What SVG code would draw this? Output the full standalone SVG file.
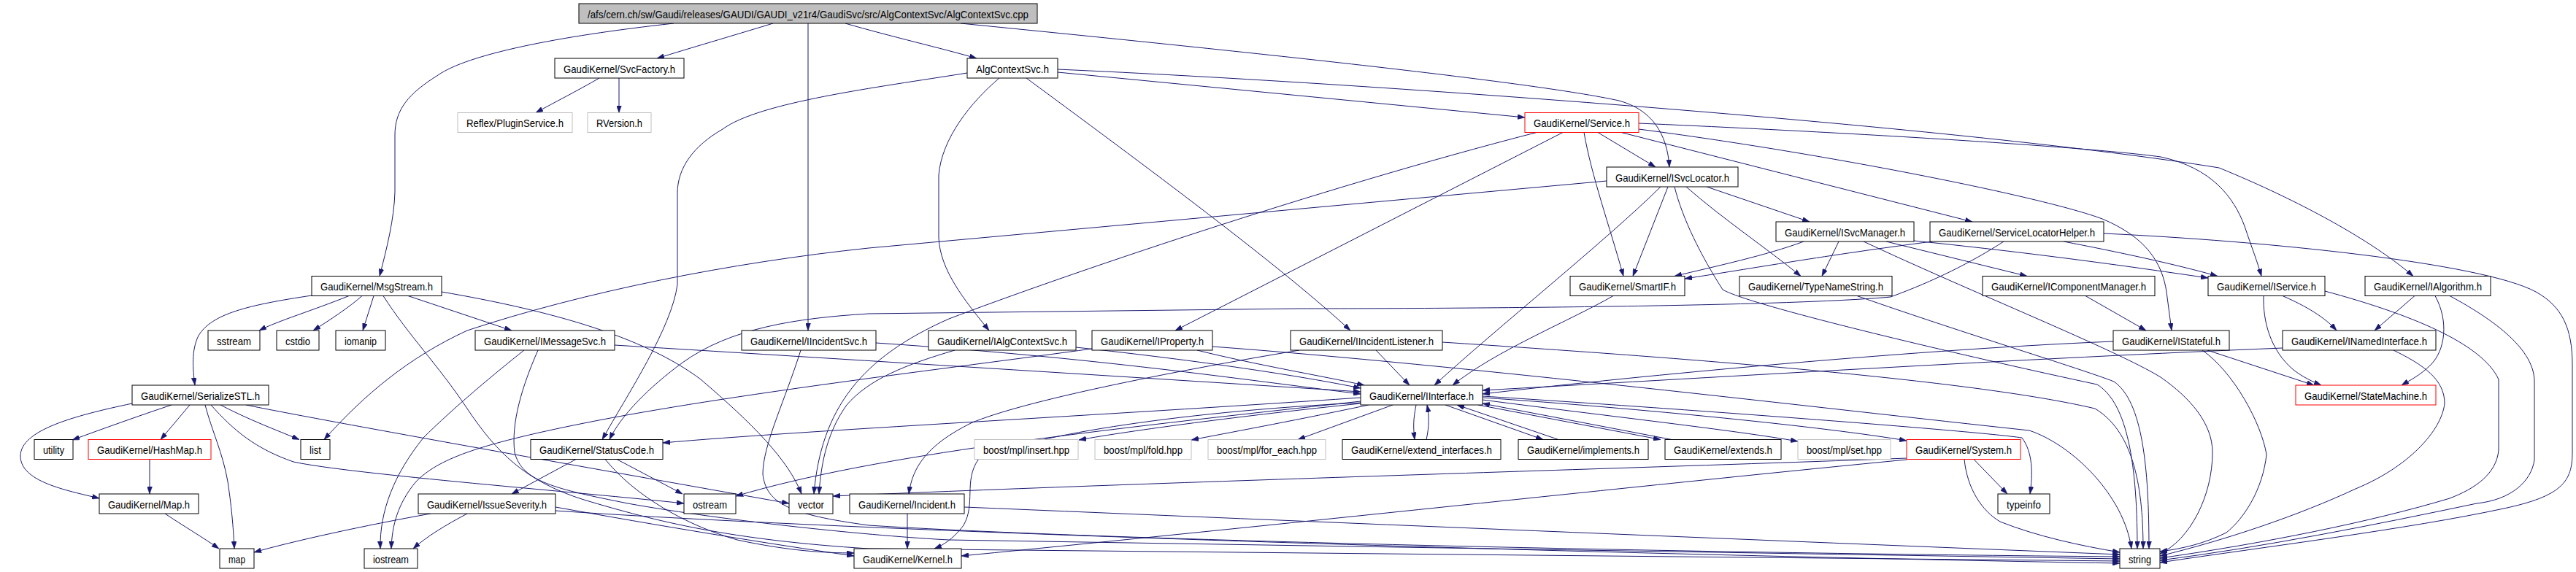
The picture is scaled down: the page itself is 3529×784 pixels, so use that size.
<svg xmlns="http://www.w3.org/2000/svg" width="3529" height="784" viewBox="0 0 3529 784">
<style>
rect{fill:#fff;stroke:#000;stroke-width:1}
rect.g{stroke:#bfbfbf}
rect.r{stroke:#f00}
rect.root{fill:#bfbfbf}
text{font-family:"Liberation Sans",Arial,sans-serif;font-size:15px;text-anchor:middle;fill:#000}
#edges path{fill:none;stroke:#191970;stroke-width:1;marker-end:url(#a)}
</style>
<defs>
<marker id="a" viewBox="0 0 10 7" refX="10" refY="3.5" markerWidth="10" markerHeight="7" markerUnits="userSpaceOnUse" orient="auto"><path d="M0,0 L10,3.5 L0,7 z" fill="#191970" stroke="#191970" stroke-width="0.5"/></marker>
</defs>
<rect x="0" y="0" width="3529" height="784" style="fill:#fff;stroke:none"/>
<g id="edges">
<path d="M923,32 C 760,50 640,75 600,103 C 560,128 541,150 541,185 L 541,263 C 540,300 530,340 520,378.5"/>
<path d="M1059,32 C 1000,50 945,66 900,80"/>
<path d="M1107,32 L 1107,453"/>
<path d="M1158,32 C 1220,50 1290,66 1338,80"/>
<path d="M1316,32 C 1700,70 2100,112 2218,138 C 2262,150 2284,182 2287,229"/>
<path d="M821,107 C 790,125 760,140 734,154.5"/>
<path d="M848,107 L 848,154.5"/>
<path d="M1325,100 C 1200,120 1040,140 990,177 C 950,200 928,230 928,265 L 928,390 C 920,450 860,540 825,602.5"/>
<path d="M1369,107 C 1330,140 1290,190 1286,240 L 1286,326 C 1288,370 1320,410 1355,453"/>
<path d="M1406,107 C 1600,250 1760,370 1850,453"/>
<path d="M1449,99 L 2089,161"/>
<path d="M1449,95 C 1900,115 2700,175 3040,230 C 3150,275 3250,330 3306,378.5"/>
<path d="M2189,181.5 L 2268,229"/>
<path d="M2170,181.5 C 2180,240 2205,310 2224,378.5"/>
<path d="M2245,169 C 2500,180 2850,200 2960,215 C 3030,230 3060,270 3075,310 C 3085,340 3093,360 3098,378.5"/>
<path d="M2245,177 C 2500,210 2800,270 2880,300 C 2940,325 2962,360 2968,400 L 2975,453"/>
<path d="M2141,181.5 L 1610,453"/>
<path d="M2105,181.5 C 1800,260 1450,380 1300,437 C 1180,490 1125,560 1115,677"/>
<path d="M2221,181.5 L 2702,304"/>
<path d="M2201,248 L 1190,340 C 1000,360 800,400 640,453 C 560,490 500,540 444,602.5"/>
<path d="M2275,256 C 2200,330 2050,450 1965,528"/>
<path d="M2285,256 L 2237,378.5"/>
<path d="M2294,256 C 2305,300 2330,350 2360,397 C 2400,420 2700,490 2873,527 C 2910,550 2928,620 2928,752"/>
<path d="M2310,256 C 2360,300 2420,340 2467,378.5"/>
<path d="M2338,256 L 2479,304"/>
<path d="M2471,331 C 2420,350 2350,365 2294,378.5"/>
<path d="M2647,331 C 2500,350 2400,368 2308,382"/>
<path d="M2519,331 L 2496,378.5"/>
<path d="M2553,331 C 2700,400 2900,480 2960,517 C 3000,545 3031,580 3031,620 C 3031,680 3000,740 2959,759"/>
<path d="M2584,331 L 2777,378.5"/>
<path d="M2622,330 C 2800,348 2950,370 3025,381"/>
<path d="M2745,331 C 2700,360 2650,385 2590,407 C 2450,420 2000,423 1780,423 L 1190,430 C 1090,436 1000,450 935,497 C 890,530 850,570 835,602.5"/>
<path d="M2827,331 C 2900,345 2980,362 3038,378.5"/>
<path d="M2882,320 C 3100,330 3400,360 3474,400 C 3510,420 3524,450 3524,500 L 3524,620 C 3524,660 3510,680 3430,697 C 3300,725 3100,750 2959,771"/>
<path d="M478,405.5 C 430,425 380,440 355,453"/>
<path d="M496,405.5 C 480,420 450,440 429,453"/>
<path d="M512,405.5 L 497,453"/>
<path d="M427,405 C 340,418 290,430 272,460 C 262,480 264,505 267,528"/>
<path d="M559,405.5 L 701,453"/>
<path d="M605,400 C 750,425 880,460 960,520 C 1030,580 1080,630 1098,677"/>
<path d="M525,405.5 C 560,460 600,500 640,560 C 680,620 720,660 800,685 C 900,715 1000,740 1190,752 L 2904,769"/>
<path d="M842,473 C 1200,495 1600,520 1864,537"/>
<path d="M718,480 C 680,510 620,560 580,600 C 540,650 520,700 521,752"/>
<path d="M737,480 C 715,530 700,580 705,620 C 715,660 760,670 860,690 C 1000,715 1200,735 1300,740 L 2904,766"/>
<path d="M235,555 C 190,570 140,588 99,603"/>
<path d="M260,555 L 220,602.5"/>
<path d="M181,553 C 100,570 28,590 28,625 C 28,660 90,672 136,683"/>
<path d="M281,555 C 290,590 305,620 312,660 C 318,700 320,730 321,752"/>
<path d="M302,555 C 340,575 380,590 410,602.5"/>
<path d="M289,555 C 320,590 350,615 402,633 C 480,650 800,675 937,690"/>
<path d="M337,555 C 450,578 800,640 1081,690"/>
<path d="M205,629.5 L 205,677"/>
<path d="M226,704 C 250,720 280,738 300,752"/>
<path d="M789,629.5 L 701,677"/>
<path d="M845,629.5 L 935,677"/>
<path d="M829,629.5 C 870,680 940,720 1010,740 C 1080,755 1130,758 1170,758"/>
<path d="M590,704 C 500,720 400,742 348,757"/>
<path d="M640,704 C 610,720 585,735 566,752"/>
<path d="M761,695 C 900,720 1050,745 1170,762"/>
<path d="M761,700 C 1200,730 2200,760 2904,772"/>
<path d="M1200,470 C 1500,490 1700,520 1864,540"/>
<path d="M1097,480 C 1075,550 1045,610 1045,650 C 1050,690 1080,705 1190,720 C 1500,740 2300,758 2904,763"/>
<path d="M1474,476 C 1650,495 1780,515 1864,532"/>
<path d="M1308,480 C 1240,500 1190,520 1160,555 C 1135,590 1125,630 1122,677"/>
<path d="M1640,480 C 1720,500 1810,515 1869,528"/>
<path d="M1496,478 C 1300,505 1000,540 800,580 C 650,610 600,630 570,660 C 545,690 537,720 536,752"/>
<path d="M1661,475 C 2000,500 2500,560 2780,590 C 2840,610 2910,680 2920,752"/>
<path d="M1885,480 L 1931,528"/>
<path d="M1780,480 C 1600,510 1400,550 1330,580 C 1270,610 1250,640 1245,677"/>
<path d="M1976,469 C 2300,490 2700,520 2870,560 C 2920,590 2936,660 2936,752"/>
<path d="M2210,405.5 C 2150,440 2050,480 1990,528"/>
<path d="M2544,405.5 C 2700,460 2850,505 2896,523 C 2935,550 2944,640 2944,752"/>
<path d="M2857,405.5 L 2940,453"/>
<path d="M3127,405.5 C 3160,420 3185,435 3201,453"/>
<path d="M3101,405.5 C 3100,440 3110,480 3142,507 C 3155,517 3168,523 3180,528"/>
<path d="M3185,399 C 3300,430 3400,470 3423,520 L 3423,617 C 3420,650 3390,670 3356,683 C 3250,715 3100,745 2959,765"/>
<path d="M3308,405.5 L 3253,453"/>
<path d="M3336,405.5 C 3355,440 3350,480 3330,500 C 3315,515 3300,522 3290,528"/>
<path d="M3356,405.5 C 3420,440 3472,480 3472,523 L 3472,630 C 3468,660 3440,685 3393,690 C 3250,720 3100,750 2959,768"/>
<path d="M3127,477 C 2800,490 2300,520 2031,535"/>
<path d="M3279,480 C 3320,500 3349,520 3349,553 C 3345,590 3300,640 3227,670 C 3150,706 3050,740 2959,762"/>
<path d="M2895,468 C 2600,480 2200,520 2031,540"/>
<path d="M3024,480 L 3170,528"/>
<path d="M3017,480 C 3060,510 3098,580 3105,623 C 3100,670 3075,710 3050,730 C 3020,745 2990,752 2959,756"/>
<path d="M1864,545 C 1500,570 1100,590 908,607"/>
<path d="M1864,550 C 1500,590 1200,623 1008,680"/>
<path d="M1864,552 C 1600,565 1400,600 1340,630 C 1320,660 1337,690 1320,720 C 1305,740 1290,748 1280,752"/>
<path d="M1864,553 C 1700,570 1550,590 1478,603"/>
<path d="M1875,555 C 1780,575 1700,590 1632,603"/>
<path d="M1908,555 L 1778,602.5"/>
<path d="M1940,555 C 1936,575 1936,585 1938,602.5"/>
<path d="M1954,602.5 C 1958,585 1958,570 1955,555"/>
<path d="M1980,555 L 2114,602.5"/>
<path d="M2135,602.5 L 1996,555"/>
<path d="M2025,555 L 2275,602.5"/>
<path d="M2290,602.5 L 2031,553"/>
<path d="M2031,548 C 2200,570 2380,590 2463,605"/>
<path d="M2031,545 C 2250,560 2500,585 2612,604"/>
<path d="M2031,543 C 2300,560 2700,590 2770,600 C 2785,620 2785,650 2781,677"/>
<path d="M2704,629.5 L 2750,677"/>
<path d="M2612,628 C 2300,640 1600,660 1141,680"/>
<path d="M2612,630 C 2300,660 1800,715 1317,762"/>
<path d="M2691,629.5 C 2695,670 2715,700 2740,715 C 2790,735 2850,748 2904,757"/>
<path d="M1243,704 L 1243,752"/>
<path d="M1321,695 C 1800,715 2400,740 2904,760"/>
</g>
<g id="root"><rect class="root" x="793" y="5" width="628" height="27"/><text x="1107" y="24.5" textLength="604" lengthAdjust="spacingAndGlyphs">/afs/cern.ch/sw/Gaudi/releases/GAUDI/GAUDI_v21r4/GaudiSvc/src/AlgContextSvc/AlgContextSvc.cpp</text></g>
<g id="SvcFactory"><rect x="760" y="80" width="177" height="27"/><text x="848.5" y="99.5" textLength="153" lengthAdjust="spacingAndGlyphs">GaudiKernel/SvcFactory.h</text></g>
<g id="AlgContextSvcH"><rect x="1325" y="80" width="124" height="27"/><text x="1387" y="99.5" textLength="100" lengthAdjust="spacingAndGlyphs">AlgContextSvc.h</text></g>
<g id="PluginService"><rect class="g" x="627" y="154.5" width="157" height="27"/><text x="705.5" y="174" textLength="133" lengthAdjust="spacingAndGlyphs">Reflex/PluginService.h</text></g>
<g id="RVersion"><rect class="g" x="805" y="154.5" width="87" height="27"/><text x="848.5" y="174" textLength="63" lengthAdjust="spacingAndGlyphs">RVersion.h</text></g>
<g id="Service"><rect class="r" x="2089" y="154.5" width="156" height="27"/><text x="2167" y="174" textLength="132" lengthAdjust="spacingAndGlyphs">GaudiKernel/Service.h</text></g>
<g id="ISvcLocator"><rect x="2201" y="229" width="180" height="27"/><text x="2291" y="248.5" textLength="156" lengthAdjust="spacingAndGlyphs">GaudiKernel/ISvcLocator.h</text></g>
<g id="ISvcManager"><rect x="2433" y="304" width="189" height="27"/><text x="2527.5" y="323.5" textLength="165" lengthAdjust="spacingAndGlyphs">GaudiKernel/ISvcManager.h</text></g>
<g id="ServiceLocatorHelper"><rect x="2644" y="304" width="238" height="27"/><text x="2763" y="323.5" textLength="214" lengthAdjust="spacingAndGlyphs">GaudiKernel/ServiceLocatorHelper.h</text></g>
<g id="MsgStream"><rect x="427" y="378.5" width="178" height="27"/><text x="516" y="398" textLength="154" lengthAdjust="spacingAndGlyphs">GaudiKernel/MsgStream.h</text></g>
<g id="SmartIF"><rect x="2151" y="378.5" width="157" height="27"/><text x="2229.5" y="398" textLength="133" lengthAdjust="spacingAndGlyphs">GaudiKernel/SmartIF.h</text></g>
<g id="TypeNameString"><rect x="2383" y="378.5" width="209" height="27"/><text x="2487.5" y="398" textLength="185" lengthAdjust="spacingAndGlyphs">GaudiKernel/TypeNameString.h</text></g>
<g id="IComponentManager"><rect x="2716" y="378.5" width="236" height="27"/><text x="2834" y="398" textLength="212" lengthAdjust="spacingAndGlyphs">GaudiKernel/IComponentManager.h</text></g>
<g id="IService"><rect x="3025" y="378.5" width="160" height="27"/><text x="3105" y="398" textLength="136" lengthAdjust="spacingAndGlyphs">GaudiKernel/IService.h</text></g>
<g id="IAlgorithm"><rect x="3240" y="378.5" width="172" height="27"/><text x="3326" y="398" textLength="148" lengthAdjust="spacingAndGlyphs">GaudiKernel/IAlgorithm.h</text></g>
<g id="sstream"><rect x="285" y="453" width="71" height="27"/><text x="320.5" y="472.5" textLength="47" lengthAdjust="spacingAndGlyphs">sstream</text></g>
<g id="cstdio"><rect x="379" y="453" width="58" height="27"/><text x="408" y="472.5" textLength="34" lengthAdjust="spacingAndGlyphs">cstdio</text></g>
<g id="iomanip"><rect x="460" y="453" width="68" height="27"/><text x="494" y="472.5" textLength="44" lengthAdjust="spacingAndGlyphs">iomanip</text></g>
<g id="IMessageSvc"><rect x="651" y="453" width="191" height="27"/><text x="746.5" y="472.5" textLength="167" lengthAdjust="spacingAndGlyphs">GaudiKernel/IMessageSvc.h</text></g>
<g id="IIncidentSvc"><rect x="1016" y="453" width="184" height="27"/><text x="1108" y="472.5" textLength="160" lengthAdjust="spacingAndGlyphs">GaudiKernel/IIncidentSvc.h</text></g>
<g id="IAlgContextSvc"><rect x="1272" y="453" width="202" height="27"/><text x="1373" y="472.5" textLength="178" lengthAdjust="spacingAndGlyphs">GaudiKernel/IAlgContextSvc.h</text></g>
<g id="IProperty"><rect x="1496" y="453" width="165" height="27"/><text x="1578.5" y="472.5" textLength="141" lengthAdjust="spacingAndGlyphs">GaudiKernel/IProperty.h</text></g>
<g id="IIncidentListener"><rect x="1768" y="453" width="208" height="27"/><text x="1872" y="472.5" textLength="184" lengthAdjust="spacingAndGlyphs">GaudiKernel/IIncidentListener.h</text></g>
<g id="IStateful"><rect x="2895" y="453" width="159" height="27"/><text x="2974.5" y="472.5" textLength="135" lengthAdjust="spacingAndGlyphs">GaudiKernel/IStateful.h</text></g>
<g id="INamedInterface"><rect x="3127" y="453" width="210" height="27"/><text x="3232" y="472.5" textLength="186" lengthAdjust="spacingAndGlyphs">GaudiKernel/INamedInterface.h</text></g>
<g id="SerializeSTL"><rect x="181" y="528" width="187" height="27"/><text x="274.5" y="547.5" textLength="163" lengthAdjust="spacingAndGlyphs">GaudiKernel/SerializeSTL.h</text></g>
<g id="IInterface"><rect x="1864" y="528" width="167" height="27"/><text x="1947.5" y="547.5" textLength="143" lengthAdjust="spacingAndGlyphs">GaudiKernel/IInterface.h</text></g>
<g id="StateMachine"><rect class="r" x="3145" y="528" width="192" height="27"/><text x="3241" y="547.5" textLength="168" lengthAdjust="spacingAndGlyphs">GaudiKernel/StateMachine.h</text></g>
<g id="utility"><rect x="47" y="602.5" width="53" height="27"/><text x="73.5" y="622" textLength="29" lengthAdjust="spacingAndGlyphs">utility</text></g>
<g id="HashMap"><rect class="r" x="121" y="602.5" width="168" height="27"/><text x="205" y="622" textLength="144" lengthAdjust="spacingAndGlyphs">GaudiKernel/HashMap.h</text></g>
<g id="list"><rect x="412" y="602.5" width="40" height="27"/><text x="432" y="622" textLength="16" lengthAdjust="spacingAndGlyphs">list</text></g>
<g id="StatusCode"><rect x="727" y="602.5" width="181" height="27"/><text x="817.5" y="622" textLength="157" lengthAdjust="spacingAndGlyphs">GaudiKernel/StatusCode.h</text></g>
<g id="insert"><rect class="g" x="1335" y="602.5" width="142" height="27"/><text x="1406" y="622" textLength="118" lengthAdjust="spacingAndGlyphs">boost/mpl/insert.hpp</text></g>
<g id="fold"><rect class="g" x="1500" y="602.5" width="132" height="27"/><text x="1566" y="622" textLength="108" lengthAdjust="spacingAndGlyphs">boost/mpl/fold.hpp</text></g>
<g id="for_each"><rect class="g" x="1655" y="602.5" width="161" height="27"/><text x="1735.5" y="622" textLength="137" lengthAdjust="spacingAndGlyphs">boost/mpl/for_each.hpp</text></g>
<g id="extend_interfaces"><rect x="1839" y="602.5" width="217" height="27"/><text x="1947.5" y="622" textLength="193" lengthAdjust="spacingAndGlyphs">GaudiKernel/extend_interfaces.h</text></g>
<g id="implements"><rect x="2080" y="602.5" width="178" height="27"/><text x="2169" y="622" textLength="154" lengthAdjust="spacingAndGlyphs">GaudiKernel/implements.h</text></g>
<g id="extends"><rect x="2281" y="602.5" width="159" height="27"/><text x="2360.5" y="622" textLength="135" lengthAdjust="spacingAndGlyphs">GaudiKernel/extends.h</text></g>
<g id="set"><rect class="g" x="2463" y="602.5" width="127" height="27"/><text x="2526.5" y="622" textLength="103" lengthAdjust="spacingAndGlyphs">boost/mpl/set.hpp</text></g>
<g id="System"><rect class="r" x="2612" y="602.5" width="156" height="27"/><text x="2690" y="622" textLength="132" lengthAdjust="spacingAndGlyphs">GaudiKernel/System.h</text></g>
<g id="Map"><rect x="136" y="677" width="136" height="27"/><text x="204" y="696.5" textLength="112" lengthAdjust="spacingAndGlyphs">GaudiKernel/Map.h</text></g>
<g id="IssueSeverity"><rect x="573" y="677" width="188" height="27"/><text x="667" y="696.5" textLength="164" lengthAdjust="spacingAndGlyphs">GaudiKernel/IssueSeverity.h</text></g>
<g id="ostream"><rect x="937" y="677" width="71" height="27"/><text x="972.5" y="696.5" textLength="47" lengthAdjust="spacingAndGlyphs">ostream</text></g>
<g id="vector"><rect x="1081" y="677" width="60" height="27"/><text x="1111" y="696.5" textLength="36" lengthAdjust="spacingAndGlyphs">vector</text></g>
<g id="Incident"><rect x="1164" y="677" width="157" height="27"/><text x="1242.5" y="696.5" textLength="133" lengthAdjust="spacingAndGlyphs">GaudiKernel/Incident.h</text></g>
<g id="typeinfo"><rect x="2737" y="677" width="71" height="27"/><text x="2772.5" y="696.5" textLength="47" lengthAdjust="spacingAndGlyphs">typeinfo</text></g>
<g id="map"><rect x="301" y="752" width="47" height="27"/><text x="324.5" y="771.5" textLength="23" lengthAdjust="spacingAndGlyphs">map</text></g>
<g id="iostream"><rect x="499" y="752" width="73" height="27"/><text x="535.5" y="771.5" textLength="49" lengthAdjust="spacingAndGlyphs">iostream</text></g>
<g id="Kernel"><rect x="1170" y="752" width="147" height="27"/><text x="1243.5" y="771.5" textLength="123" lengthAdjust="spacingAndGlyphs">GaudiKernel/Kernel.h</text></g>
<g id="string"><rect x="2904" y="752" width="55" height="27"/><text x="2931.5" y="771.5" textLength="31" lengthAdjust="spacingAndGlyphs">string</text></g>
</svg>
